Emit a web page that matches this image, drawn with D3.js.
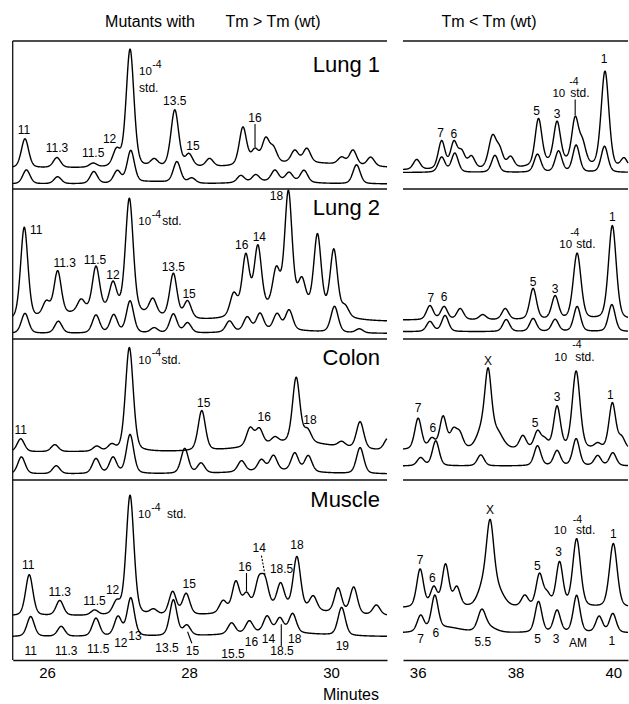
<!DOCTYPE html>
<html><head><meta charset="utf-8">
<script src="https://cdn.jsdelivr.net/npm/d3@7/dist/d3.min.js"></script>
<style>
body{margin:0;background:#fff}
text{font-family:"Liberation Sans",Arial,Helvetica,sans-serif;fill:#000}
</style>
</head><body>
<svg id="c" width="629" height="704"></svg>
<script>
// ---------------- DATA ----------------
const leftTicks = [26, 28, 30];
const rightTicks = [36, 38, 40];
const samples = ["Lung 1", "Lung 2", "Colon", "Muscle"];
// peaks: [migration time (min), peak height (signal units), optional width sigma (min)]
const lung1LeftUpper = [[25.69,29],[26.14,10],[26.65,4],[26.98,16],[27.17,118,0.055],[27.51,7],[27.80,57,0.055],[28.00,12],[28.29,8],[28.76,38],[28.93,14],[29.08,24],[29.19,14],[29.49,12],[29.66,14],[30.15,7],[30.31,15],[30.56,9],[29.6,5,0.6]];
const lung1LeftLower = [[25.71,14],[26.15,7],[26.66,12],[26.99,12],[27.18,32],[27.83,21],[28.04,5],[28.73,7],[28.94,7],[29.21,11],[29.41,9],[29.62,12],[30.36,19],[29.2,2.5,0.4],[27.5,2,0.3]];
const lung1RightUpper = [[35.98,10],[36.49,28],[36.74,26],[36.90,16],[37.10,12],[37.53,32,0.08],[37.68,16],[37.90,11],[38.47,46],[38.85,40],[39.22,44],[39.37,20],[39.83,97,0.08],[40.22,10],[38.9,7,0.45]];
const lung1RightLower = [[36.49,15],[36.76,19],[37.58,17],[38.45,18],[38.88,21],[39.24,27],[39.82,26]];

const lung2LeftUpper = [[25.68,92],[25.99,14],[26.15,44],[26.48,12],[26.69,44],[26.93,27],[27.16,114,0.055],[27.49,16],[27.78,44],[27.98,17],[28.63,22],[28.80,58],[28.97,64],[29.23,36],[29.40,114],[29.59,26],[29.81,76],[30.04,65],[30.20,10],[26.8,10,0.6],[29.4,14,0.45]];
const lung2LeftLower = [[25.69,20],[26.16,12],[26.69,18],[26.94,18],[27.17,32],[27.51,5],[27.78,19],[27.98,10],[28.57,11],[28.82,14],[29.00,17],[29.24,16],[29.41,20],[30.05,26],[30.40,4],[29.3,3,0.5]];
const lung2RightUpper = [[36.25,14],[36.54,13],[36.87,11],[37.33,5],[37.79,11],[38.36,31],[38.81,23],[39.26,66,0.08],[39.98,94,0.08]];
const lung2RightLower = [[36.25,10],[36.56,16],[37.81,12],[38.36,13],[38.81,12],[39.26,25],[39.97,27]];

const colonLeftUpper = [[25.63,13],[26.11,7],[26.70,5],[26.91,6],[27.16,104,0.055],[28.18,40],[28.86,18],[28.99,16],[29.21,6],[29.51,65],[29.67,12],[30.15,5],[30.41,27],[30.80,12],[29.5,9,0.6]];
const colonLeftLower = [[25.64,17],[26.13,8],[26.69,15],[26.93,16],[27.17,39],[27.94,25],[28.17,10],[28.74,11],[29.02,11],[29.19,15],[29.49,18],[29.68,16],[30.41,26],[29.2,3,0.5]];
const colonRightUpper = [[36.01,31],[36.29,10],[36.52,32],[36.73,17],[36.86,14],[37.30,16,0.1],[37.44,70],[37.62,16,0.12],[38.15,13],[38.45,17],[38.60,8],[38.85,42],[39.24,78,0.08],[39.68,5],[39.98,46],[40.17,11]];
const colonRightLower = [[36.06,8],[36.37,25],[37.29,11],[38.45,20],[38.85,15],[39.24,27],[39.68,10],[39.99,13]];

const muscleLeftUpper = [[25.75,41],[26.18,15],[26.67,5],[26.98,12],[27.17,120,0.055],[27.50,5],[27.77,23],[27.96,21],[28.48,12],[28.66,30],[28.81,16],[28.98,26],[29.07,26],[29.29,24],[29.52,52],[29.75,14],[30.10,25],[30.32,27],[30.64,10],[29.3,7,0.5]];
const muscleLeftLower = [[25.77,20],[26.20,10],[26.69,18],[27.00,19],[27.18,38],[27.78,36],[27.97,10],[28.60,11],[28.85,12],[29.10,16],[29.28,14],[29.46,19],[30.15,28],[29.2,4,0.6]];
const muscleRightUpper = [[36.05,38],[36.33,19],[36.57,42],[36.80,19],[37.32,16,0.1],[37.48,78,0.08],[37.65,14,0.12],[38.19,11],[38.49,32],[38.65,11],[38.90,44],[39.25,68,0.08],[40.00,64,0.08]];
const muscleRightLower = [[36.06,16],[36.35,34],[36.6,5,0.3],[37.31,20,0.08],[37.45,5,0.15],[38.47,31],[38.85,22],[39.25,37],[39.71,16],[39.99,19]];

// peak labels: t = text, p = peak time (min)
const lung1LeftLabels = [{t:"11",p:25.69,dx:-1,dy:-5},{t:"11.3",p:26.14,dx:0,dy:-6},{t:"11.5",p:26.65,dx:0,dy:-6},{t:"12",p:26.98,dx:-7,dy:-4},{t:"13.5",p:27.80,dx:0,dy:-4.5},{t:"15",p:28.00,dx:4,dy:-3.5},{t:"16",p:28.93,dx:0,dy:-26,lead:[0,-24,0,-1]}];
const lung1RightLabels = [{t:"7",p:36.49,dx:-1,dy:-3},{t:"6",p:36.74,dx:0,dy:-3},{t:"5",p:38.47,dx:-2,dy:-3},{t:"3",p:38.85,dx:0,dy:-3},{t:"1",p:39.83,dx:-1,dy:-8}];
const lung2LeftLabels = [{t:"11",p:25.68,dx:12,dy:6.6},{t:"11.3",p:26.15,dx:7,dy:-3.3},{t:"11.5",p:26.69,dx:-1,dy:-2},{t:"12",p:26.93,dx:0,dy:-2},{t:"13.5",p:27.78,dx:0,dy:-2},{t:"15",p:27.98,dx:1.5,dy:-2.3},{t:"16",p:28.80,dx:-4,dy:-4.3},{t:"14",p:28.97,dx:1.5,dy:-3.4},{t:"18",p:29.40,dx:-12,dy:10}];
const lung2RightLabels = [{t:"7",p:36.25,dx:1,dy:-3.7},{t:"6",p:36.54,dx:0,dy:-5},{t:"5",p:38.36,dx:0,dy:-2.6},{t:"3",p:38.81,dx:0,dy:-2.7},{t:"1",p:39.98,dx:0,dy:-5}];
const colonLeftLabels = [{t:"11",p:25.63,dx:0,dy:-5},{t:"15",p:28.18,dx:2,dy:-3.3},{t:"16",p:28.99,dx:5,dy:-6.6},{t:"18",p:29.67,dx:2.5,dy:-4}];
const colonRightLabels = [{t:"7",p:36.01,dx:0,dy:-6},{t:"6",p:36.29,dx:1,dy:-5},{t:"X",p:37.44,dx:0,dy:-2.4},{t:"5",p:38.45,dx:-2.5,dy:-3.3},{t:"3",p:38.85,dx:0,dy:-4.4},{t:"1",p:39.98,dx:-2,dy:-3.4}];
const muscleLeftLabels = [{t:"11",p:25.75,dx:-1,dy:-5.7},{t:"11.3",p:26.18,dx:0,dy:-4.7},{t:"11.5",p:26.67,dx:0,dy:-5},{t:"12",p:26.98,dx:-4,dy:-5.7},{t:"15",p:27.96,dx:3,dy:-5.4},{t:"16",p:28.81,dx:-1.5,dy:-21.4,lead:[0,-19,0,-1]},{t:"14",p:29.07,dx:-5.7,dy:-23.3,lead:[-3.5,-20,0,-1],dash:true},{t:"18.5",p:29.29,dx:1,dy:-10},{t:"18",p:29.52,dx:0,dy:-7.3}];
const muscleRightLabels = [{t:"7",p:36.05,dx:0,dy:-5},{t:"6",p:36.33,dx:-1.5,dy:-4.4},{t:"X",p:37.48,dx:0,dy:-5},{t:"5",p:38.49,dx:-2,dy:-2.7},{t:"3",p:38.90,dx:-1,dy:-5.6},{t:"1",p:40.00,dx:0,dy:-5}];
// labels under the reference trace: m = time (min)
const muscleLeftLowerLabels = [{t:"11",m:25.77,dy:18.3},{t:"11.3",m:26.27,dy:18.3},{t:"11.5",m:26.72,dy:16},{t:"12",m:27.04,dy:10},{t:"13",m:27.24,dy:3.3},{t:"13.5",m:27.69,dy:15},{t:"15",m:28.05,dy:18.3,lead:[27.98,-5,28.04,6.6]},{t:"15.5",m:28.62,dy:21.6},{t:"16",m:28.88,dy:9.3},{t:"14",m:29.12,dy:6.6},{t:"18.5",m:29.31,dy:18.3,lead:[29.30,-12.4,29.30,9.3]},{t:"18",m:29.49,dy:6.6},{t:"19",m:30.16,dy:13.3}];
const muscleRightLowerLabels = [{t:"7",m:36.06,dy:10.3},{t:"6",m:36.37,dy:3.7},{t:"5.5",m:37.33,dy:13},{t:"5",m:38.45,dy:10.3},{t:"3",m:38.83,dy:10.3},{t:"AM",m:39.28,dy:13.7},{t:"1",m:39.97,dy:12}];
// 10^-4 standard peak labels
const stdLabels = {
  L: [{p:27.17,tA:"start",stack:true,tx:9,ty:25.6,sy:19,dx:9,dy:43.3},
      {p:27.16,tA:"start",tx:9,ty:26.6,sy:19.5,dx:33,dy:26.6},
      {p:27.16,tA:"start",tx:9,ty:16.6,sy:8.5,dx:22,dy:16.6},
      {p:27.17,tA:"start",tx:8,ty:23.3,sy:16,dx:37,dy:23.3}],
  R: [{p:39.22,tA:"end",tx:-10,ty:-19.3,sx:-6,sy:-31,dx:-5,dy:-19.3,lead:true},
      {p:39.26,tA:"end",tx:-5,ty:-5,sx:-7,sy:-17,dx:-1,dy:-5},
      {p:39.24,tA:"end",tx:-9,ty:-10,sx:-4,sy:-23,dx:-1,dy:-10},
      {p:39.25,tA:"end",tx:-10,ty:-4.4,sx:-4,sy:-16,dx:-0.6,dy:-4.4}]
};

// ---------------- LAYOUT ----------------
const rows = [
  {name:samples[0], top:41, bottom:189, labelY:72,
   L:{up:lung1LeftUpper, lo:lung1LeftLower, upBase:21, loBase:5, labels:lung1LeftLabels},
   R:{up:lung1RightUpper, lo:lung1RightLower, upBase:19, loBase:16.5, labels:lung1RightLabels}},
  {name:samples[1], top:189, bottom:339, labelY:215,
   L:{up:lung2LeftUpper, lo:lung2LeftLower, upBase:17, loBase:5.5, labels:lung2LeftLabels},
   R:{up:lung2RightUpper, lo:lung2RightLower, upBase:19, loBase:7.3, labels:lung2RightLabels}},
  {name:samples[2], top:339, bottom:480, labelY:365,
   L:{up:colonLeftUpper, lo:colonLeftLower, upBase:28, loBase:6, labels:colonLeftLabels},
   R:{up:colonRightUpper, lo:colonRightLower, upBase:30, loBase:14, labels:colonRightLabels}},
  {name:samples[3], top:480, bottom:660, labelY:507,
   L:{up:muscleLeftUpper, lo:muscleLeftLower, upBase:44, loBase:23.3, labels:muscleLeftLabels, loLabels:muscleLeftLowerLabels},
   R:{up:muscleRightUpper, lo:muscleRightLower, upBase:52, loBase:27, labels:muscleRightLabels, loLabels:muscleRightLowerLabels}}
];

const xL = d3.scaleLinear().domain([25.517, 30.789]).range([12.7, 387]);
const xR = d3.scaleLinear().domain([35.70, 40.30]).range([403, 628]);
const panels = {L:{x:xL, sig:0.052, ticks:leftTicks}, R:{x:xR, sig:0.07, ticks:rightTicks}};

const svg = d3.select("#c");

function signal(peaks, base, sig, m){
  let v = base;
  for (const pk of peaks){
    const s = pk[2] || sig;
    const z = (m - pk[0]) / s;
    v += pk[1] * (0.68*Math.exp(-0.5*z*z) + 0.32/(1 + (z/1.1774)*(z/1.1774)));
  }
  return v;
}

// titles
svg.append("text").attr("x",150).attr("y",27).attr("text-anchor","middle").attr("font-size",16).text("Mutants with");
svg.append("text").attr("x",273).attr("y",27).attr("text-anchor","middle").attr("font-size",16).text("Tm > Tm (wt)");
svg.append("text").attr("x",489).attr("y",27).attr("text-anchor","middle").attr("font-size",16).text("Tm < Tm (wt)");

// frames
const frame = svg.append("g").attr("stroke","#111").attr("stroke-width",1.3).attr("fill","none");
frame.append("line").attr("x1",12.7).attr("x2",12.7).attr("y1",41).attr("y2",660);
rows.forEach(r=>{
  frame.append("line").attr("x1",xL.range()[0]).attr("x2",xL.range()[1]).attr("y1",r.top).attr("y2",r.top);
  frame.append("line").attr("x1",xR.range()[0]).attr("x2",xR.range()[1]).attr("y1",r.top).attr("y2",r.top);
});

const line = d3.line().x(d=>d[0]).y(d=>d[1]);

rows.forEach((r, ri)=>{
  const y = d3.scaleLinear().domain([0, r.bottom - r.top]).range([r.bottom, r.top]);
  ["L","R"].forEach(pk=>{
    const P = panels[pk], D = r[pk], x = P.x;
    const [d0, d1] = x.domain();
    const ms = d3.range(d0, d1, 0.004).concat([d1]);
    const upF = m => signal(D.up, D.upBase, P.sig, m);
    const loF = m => signal(D.lo, D.loBase, P.sig, m);
    const g = svg.append("g");
    g.append("path").attr("d", line(ms.map(m=>[x(m), y(loF(m))])))
      .attr("fill","none").attr("stroke","#000").attr("stroke-width",1.4).attr("stroke-linejoin","round");
    g.append("path").attr("d", line(ms.map(m=>[x(m), y(upF(m))])))
      .attr("fill","none").attr("stroke","#000").attr("stroke-width",1.4).attr("stroke-linejoin","round");

    D.labels.forEach(l=>{
      const px = x(l.p), py = y(upF(l.p));
      g.append("text").attr("x",px+l.dx).attr("y",py+l.dy).attr("text-anchor","middle")
        .attr("font-size",12).text(l.t);
      if (l.lead){
        g.append("line").attr("x1",px+l.lead[0]).attr("y1",py+l.lead[1]).attr("x2",px+l.lead[2]).attr("y2",py+l.lead[3])
          .attr("stroke","#000").attr("stroke-width",1.1).attr("stroke-dasharray", l.dash?"2,1.5":null);
      }
    });
    (D.loLabels||[]).forEach(l=>{
      const by = y(D.loBase);
      g.append("text").attr("x",x(l.m)).attr("y",by+l.dy).attr("text-anchor","middle")
        .attr("font-size",12).text(l.t);
      if (l.lead){
        g.append("line").attr("x1",x(l.lead[0])).attr("y1",by+l.lead[1]).attr("x2",x(l.lead[2])).attr("y2",by+l.lead[3])
          .attr("stroke","#000").attr("stroke-width",1.1);
      }
    });
    // 10^-4 std label
    const s = stdLabels[pk][ri];
    const sx = x(s.p), sy = y(upF(s.p));
    const ten = g.append("text").attr("x",sx+s.tx).attr("y",sy+s.ty).attr("text-anchor",s.tA).attr("font-size",11.5).text("10");
    let supX;
    if (s.tA === "start") supX = sx + s.tx + ten.node().getComputedTextLength() + 0.5;
    else supX = sx + s.sx;
    const sup = g.append("text").attr("x",supX).attr("y",sy+s.sy).attr("font-size",10.5).text("-4");
    let stdX = sx + s.dx;
    if (s.tA === "start" && !s.stack) stdX = Math.max(stdX, supX + sup.node().getComputedTextLength() + 0.5);
    g.append("text").attr("x",stdX).attr("y",sy+s.dy).attr("font-size",12).text("std.");
    if (s.lead){
      g.append("line").attr("x1",sx).attr("x2",sx).attr("y1",sy+s.ty+2.5).attr("y2",sy-1)
        .attr("stroke","#000").attr("stroke-width",1.1);
    }
  });
  svg.append("text").attr("x",380).attr("y",r.labelY).attr("text-anchor","end").attr("font-size",22).text(r.name);
});

// axes
["L","R"].forEach(pk=>{
  const P = panels[pk];
  const ax = svg.append("g").attr("transform","translate(0,660)")
    .call(d3.axisBottom(P.x).tickValues(P.ticks).tickFormat(d3.format("d")).tickSize(0).tickPadding(7));
  ax.select(".domain").attr("stroke","#111").attr("stroke-width",1.4);
  ax.selectAll("text").attr("font-size",15).attr("font-family",'"Liberation Sans",Arial,sans-serif').attr("fill","#000");
});
svg.append("text").attr("x",351).attr("y",700).attr("text-anchor","middle").attr("font-size",16).text("Minutes");
</script>
</body></html>
